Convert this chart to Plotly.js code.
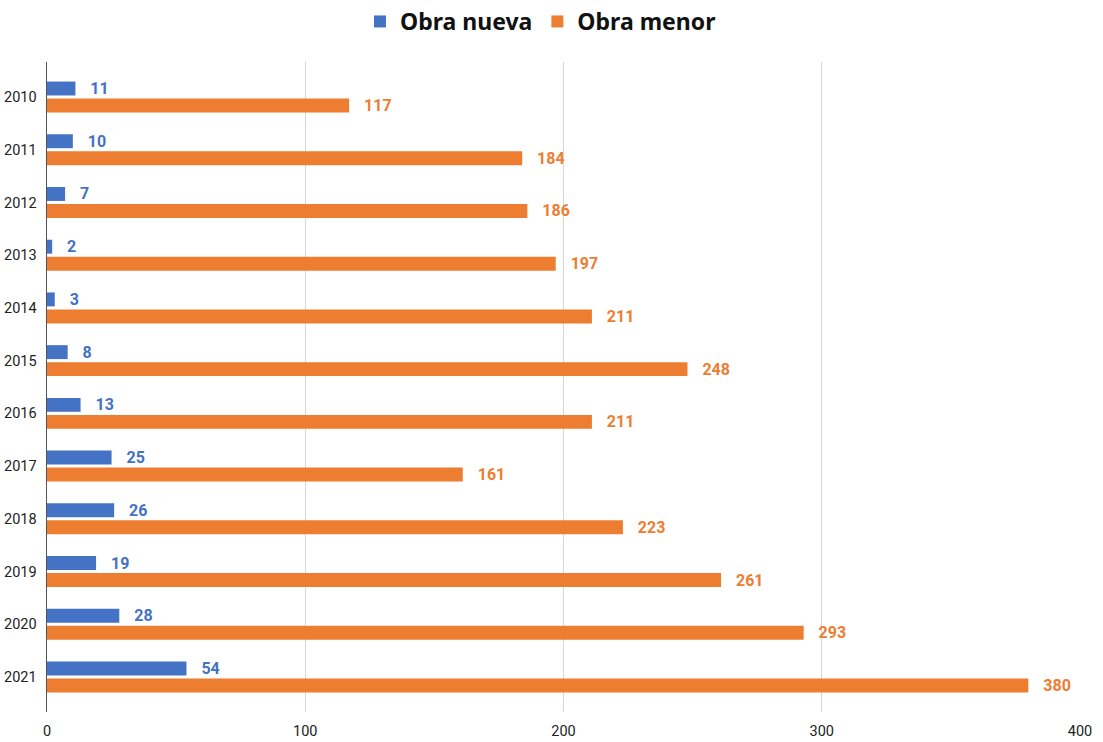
<!DOCTYPE html>
<html>
<head>
<meta charset="utf-8">
<script src="https://cdn.plot.ly/plotly-3.0.1.min.js"></script>
<style>html,body{margin:0;padding:0;background:#fff;}#chart{width:1103px;height:742px;}</style>
</head>
<body>
<div id="chart"></div>
<script>
const years = ['2010','2011','2012','2013','2014','2015','2016','2017','2018','2019','2020','2021'];
const obraNueva = [11,10,7,2,3,8,13,25,26,19,28,54];
const obraMenor = [117,184,186,197,211,248,211,161,223,261,293,380];
const xTicks = [0,100,200,300,400];

const blue = '#4472C4', orange = '#ED7D31';
const labelFont = (c) => ({family: '"Liberation Sans Narrow", "Roboto", sans-serif', size: 16, color: c, weight: 'bold'});

const traces = [
  {type:'bar', orientation:'h', name:'Obra nueva', y: years, x: obraNueva,
   marker:{color: blue}, text: obraNueva, texttemplate:'\u00a0\u00a0\u00a0%{x}', textposition:'outside',
   constraintext:'none', outsidetextfont: labelFont(blue), cliponaxis:false, hoverinfo:'x+y'},
  {type:'bar', orientation:'h', name:'Obra menor', y: years, x: obraMenor,
   marker:{color: orange}, text: obraMenor, texttemplate:'\u00a0\u00a0\u00a0%{x}', textposition:'outside',
   constraintext:'none', outsidetextfont: labelFont(orange), cliponaxis:false, hoverinfo:'x+y'}
];

const layout = {
  width: 1103, height: 742,
  margin: {l: 47, r: 23, t: 62, b: 30, pad: 0},
  paper_bgcolor: '#fff', plot_bgcolor: '#fff',
  barmode: 'group', bargap: 0.355, bargroupgap: 0.18,
  showlegend: true,
  legend: {orientation: 'h', xref: 'container', x: 0.49, xanchor: 'center', yref: 'container', y: 1.0, yanchor: 'top',
           font: {family: '"Noto Sans", sans-serif', size: 23, color: '#111', weight: 'bold'}, itemwidth: 30},
  xaxis: {range: [0, 400], tickvals: xTicks, ticktext: xTicks.map(String), showgrid: true, gridcolor: '#d6d6d6', gridwidth: 1,
          zeroline: false, showline: false, ticks: '', ticklabelstandoff: 8,
          tickfont: {family: '"Liberation Sans Narrow", "Roboto", sans-serif', size: 14.5, color: '#222'}},
  yaxis: {type: 'category', range: [11.664, -0.664], showgrid: false, zeroline: false, showline: true, linecolor: '#555', linewidth: 1.5,
          ticks: '', ticklabelstandoff: 6,
          tickfont: {family: '"Liberation Sans Narrow", "Roboto", sans-serif', size: 14.5, color: '#222'}},
  font: {family: '"Liberation Sans Narrow", "Roboto", sans-serif'}
};

Plotly.newPlot('chart', traces, layout, {displayModeBar: false, staticPlot: true});
</script>
</body>
</html>
